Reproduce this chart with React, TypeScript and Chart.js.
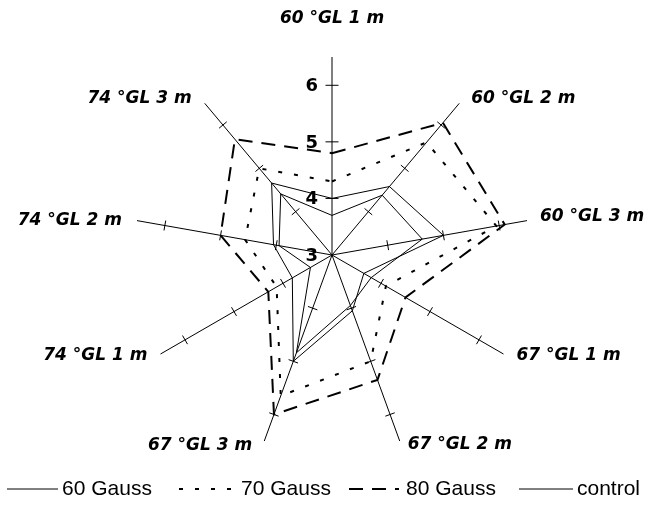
import React, { useEffect, useRef } from "react";
import { Chart, registerables } from "chart.js";

Chart.register(...registerables);

// ---- data ----
const categories = [
  "60 °GL 1 m",
  "60 °GL 2 m",
  "60 °GL 3 m",
  "67 °GL 1 m",
  "67 °GL 2 m",
  "67 °GL 3 m",
  "74 °GL 1 m",
  "74 °GL 2 m",
  "74 °GL 3 m",
];
const seriesNames = ["60 Gauss", "70 Gauss", "80 Gauss", "control"];
const gauss60 = [4.0, 4.58, 5.0, 3.65, 4.05, 5.0, 3.81, 4.05, 4.66];
const gauss70 = [4.3, 5.6, 5.95, 4.1, 5.0, 5.65, 4.13, 4.56, 5.0];
const gauss80 = [4.8, 6.05, 6.1, 4.5, 5.35, 6.0, 4.3, 5.0, 5.67];
const control = [3.7, 4.38, 4.62, 3.8, 3.95, 4.84, 3.44, 3.95, 4.41];
const tickValues = [3, 4, 5, 6];
const scaleMin = 3;
const scaleMax = 6.5;

// ---- styles / layout ----
const seriesStyles = [
  { width: 1, dash: [] as number[] },
  { width: 2, dash: [4, 12] },
  { width: 2, dash: [14, 9] },
  { width: 1, dash: [] as number[] },
];

const labelPlacement = [
  { dx: 0, dy: -38, align: "center" },
  { dx: 12, dy: -5, align: "left" },
  { dx: 13, dy: -4, align: "left" },
  { dx: 13, dy: 2, align: "left" },
  { dx: 8, dy: 4, align: "left" },
  { dx: -12, dy: 5, align: "right" },
  { dx: -13, dy: 2, align: "right" },
  { dx: -15, dy: 0, align: "right" },
  { dx: -13, dy: -5, align: "right" },
];

const legendLayout = [
  { x0: 7, x1: 58, tx: 62 },
  { x0: 179, x1: 237, tx: 241 },
  { x0: 349, x1: 399, tx: 406 },
  { x0: 519, x1: 573, tx: 577 },
];
const legendY = 489;

const excelPlugin = {
  id: "excelRadarDecor",
  afterDraw(chart: any) {
    const ctx = chart.ctx as CanvasRenderingContext2D;
    const scale = chart.scales.r;
    const n = categories.length;
    ctx.save();
    ctx.strokeStyle = "#000";
    ctx.fillStyle = "#000";
    ctx.lineWidth = 1;
    ctx.setLineDash([]);
    // tick marks on every spoke
    for (let i = 0; i < n; i++) {
      const a = scale.getIndexAngle(i) - Math.PI / 2;
      const px = -Math.sin(a);
      const py = Math.cos(a);
      const L = i === 0 ? 6.5 : 5;
      for (const v of tickValues) {
        if (v === scaleMin) continue;
        const p = scale.getPointPositionForValue(i, v);
        ctx.beginPath();
        ctx.moveTo(p.x - px * L, p.y - py * L);
        ctx.lineTo(p.x + px * L, p.y + py * L);
        ctx.stroke();
      }
    }
    // tick labels on first axis
    ctx.font = 'bold 18px "DejaVu Sans"';
    ctx.textAlign = "right";
    ctx.textBaseline = "middle";
    for (const v of tickValues) {
      const p = scale.getPointPositionForValue(0, v);
      ctx.fillText(String(v), p.x - 14, p.y + 1);
    }
    // point labels
    ctx.font = 'italic bold 17px "DejaVu Sans"';
    ctx.textBaseline = "middle";
    for (let i = 0; i < n; i++) {
      const p = scale.getPointPosition(i, scale.drawingArea);
      const lp = labelPlacement[i];
      ctx.textAlign = lp.align as CanvasTextAlign;
      ctx.fillText(categories[i], p.x + lp.dx, p.y + lp.dy);
    }
    // legend
    ctx.font = '21px "Liberation Sans", Arial, sans-serif';
    ctx.textAlign = "left";
    ctx.textBaseline = "middle";
    chart.data.datasets.forEach((ds: any, k: number) => {
      const lay = legendLayout[k];
      ctx.save();
      ctx.lineWidth = ds.borderWidth;
      ctx.setLineDash(ds.borderDash || []);
      ctx.beginPath();
      ctx.moveTo(lay.x0, legendY);
      ctx.lineTo(lay.x1, legendY);
      ctx.stroke();
      ctx.restore();
      ctx.fillText(ds.label, lay.tx, legendY);
    });
    ctx.restore();
  },
};

export default function App() {
  const canvasRef = useRef<HTMLCanvasElement | null>(null);

  useEffect(() => {
    if (!canvasRef.current) return;
    const values = [gauss60, gauss70, gauss80, control];
    const chart = new Chart(canvasRef.current, {
      type: "radar",
      data: {
        labels: categories,
        datasets: values.map((vals, k) => ({
          label: seriesNames[k],
          data: vals,
          borderColor: "#000",
          backgroundColor: "transparent",
          borderWidth: seriesStyles[k].width,
          borderDash: seriesStyles[k].dash,
          fill: false,
          pointRadius: 0,
          tension: 0,
        })),
      },
      options: {
        animation: false,
        responsive: false,
        layout: { padding: { left: 134, right: 121, top: 57, bottom: 60 } },
        plugins: {
          legend: { display: false },
          tooltip: { enabled: false },
        },
        scales: {
          r: {
            min: scaleMin,
            max: scaleMax,
            ticks: { display: false, stepSize: 1 },
            grid: { display: false },
            angleLines: { display: true, color: "#000", lineWidth: 1 },
            pointLabels: { display: false },
          },
        },
      },
      plugins: [excelPlugin],
    });
    return () => chart.destroy();
  }, []);

  return (
    <div style={{ position: "absolute", left: 0, top: 0, width: 651, height: 513, background: "#fff" }}>
      <canvas ref={canvasRef} width={651} height={513} style={{ display: "block" }} />
    </div>
  );
}
